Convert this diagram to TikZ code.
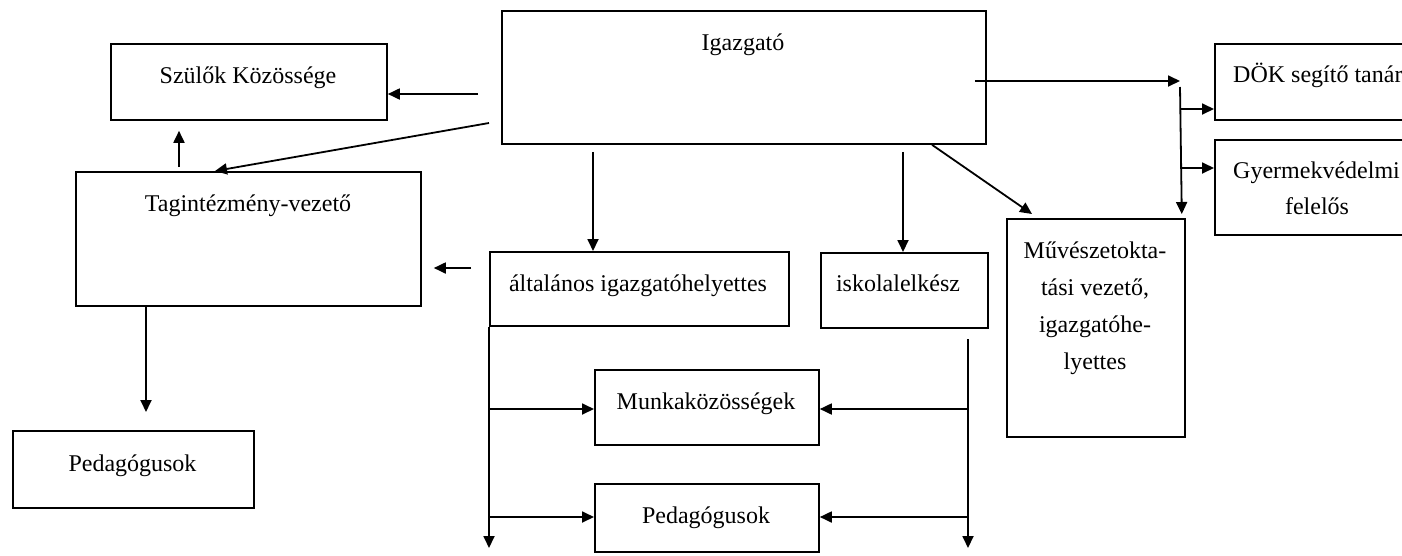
\documentclass[tikz,border=0pt]{standalone}
\usepackage{fontspec}
\setmainfont{Liberation Serif}
\usetikzlibrary{arrows.meta,calc}
\begin{document}
\begin{tikzpicture}[x=1pt,y=-1pt,
 box/.style={draw, line width=1.8pt, inner sep=0pt, anchor=north west},
 lbl/.style={anchor=base, inner sep=0pt, font=\fontsize{24}{29}\selectfont},
 lblw/.style={lbl, anchor=base west},
 arr/.style={line width=1.8pt, -{Triangle[length=12pt,width=11pt]}}]
\useasboundingbox (0,0) rectangle (1402,555);
\clip (0,0) rectangle (1402,555);
\fill[white] (0,0) rectangle (1402,555);
% boxes
\node[box, minimum width=484pt, minimum height=133pt] (igz) at (501,10) {};
\node[box, minimum width=276pt, minimum height=76pt] (szulo) at (110,43) {};
\node[box, minimum width=345pt, minimum height=134pt] (tag) at (75,171) {};
\node[box, minimum width=241pt, minimum height=77pt] (pedL) at (12,430) {};
\node[box, minimum width=299pt, minimum height=74pt] (alt) at (489,251) {};
\node[box, minimum width=167pt, minimum height=75pt] (isk) at (820,252) {};
\node[box, minimum width=224pt, minimum height=75pt] (munka) at (594,369) {};
\node[box, minimum width=224pt, minimum height=68pt] (pedC) at (594,483) {};
\node[box, minimum width=178pt, minimum height=218pt] (muv) at (1006,218) {};
\node[box, minimum width=220pt, minimum height=76pt] (dok) at (1214,43) {};
\node[box, minimum width=220pt, minimum height=95pt] (gyv) at (1214,139) {};
% texts
\node[lbl] (igzT) at (743,50) {Igazgató};
\node[lbl] (szT) at (248,83) {Szülők Közössége};
\node[lbl] (tagT) at (248,211) {Tagintézmény-vezető};
\node[lbl] (pedLT) at (132.5,471) {Pedagógusok};
\node[lbl] (altT) at (638,291) {általános igazgatóhelyettes};
\node[lbl] (iskT) at (898,291) {iskolalelkész};
\node[lbl] (munT) at (706,409) {Munkaközösségek};
\node[lbl] (pedCT) at (706,523) {Pedagógusok};
\node[lbl] (muv1) at (1095,258) {Művészetokta-};
\node[lbl] (muv2) at (1095,295) {tási vezető,};
\node[lbl] (muv3) at (1095,332) {igazgatóhe-};
\node[lbl] (muv4) at (1095,369) {lyettes};
\node[lblw] (dokT) at (1233,82) {DÖK segítő tanár};
\node[lblw] (gyvT) at (1233,178) {Gyermekvédelmi};
\node[lbl] (gyvT2) at (1317,214) {felelős};
% connectors
\coordinate (a1) at (478,94);
\draw[arr] (a1) -- (a1 -| szulo.east);
\coordinate (a2) at (489,123);
\draw[arr] (a2) -- ($(tag.north west)+(140,0)$);
\draw[arr] ($(tag.north west)+(104,-4)$) -- ($(szulo.south west)+(69,10)$);
\coordinate (a4) at (471,268);
\draw[arr] (a4) -- ($(a4 -| tag.east)+(12,0)$);
\draw[arr] ($(tag.south west)+(71,0)$) -- ($(pedL.north west)+(134,-18)$);
\draw[arr] ($(igz.south west)+(92,7)$) -- ($(alt.north west)+(104,0)$);
\draw[arr] ($(igz.south west)+(402,7)$) -- ($(isk.north west)+(83,0)$);
\draw[arr] ($(igz.south west)+(431,0)$) -- ($(muv.north west)+(26,-4)$);
\coordinate (busT) at (1180,81);
\draw[arr] ($(igz.north east)+(-12,71)$) -- (busT);
\coordinate (busA) at (1180,87);
\draw[arr] (busA) -- ($(muv.north east)+(-4,-4)$);
\coordinate (b1) at (1180,109);
\draw[arr] (b1) -- (b1 -| dok.west);
\coordinate (b2) at (1180,168);
\draw[arr] (b2) -- (b2 -| gyv.west);
\coordinate (lend) at (489,548);
\draw[arr] (alt.south west) -- (lend);
\coordinate (l1) at (489,409);
\draw[arr] (l1) -- (l1 -| munka.west);
\coordinate (l2) at (489,517);
\draw[arr] (l2) -- (l2 -| pedC.west);
\coordinate (rtop) at (968,339);
\coordinate (rend) at (968,548);
\draw[arr] (rtop) -- (rend);
\coordinate (r1) at (968,409);
\draw[arr] (r1) -- (r1 -| munka.east);
\coordinate (r2) at (968,517);
\draw[arr] (r2) -- (r2 -| pedC.east);
\end{tikzpicture}
\end{document}
